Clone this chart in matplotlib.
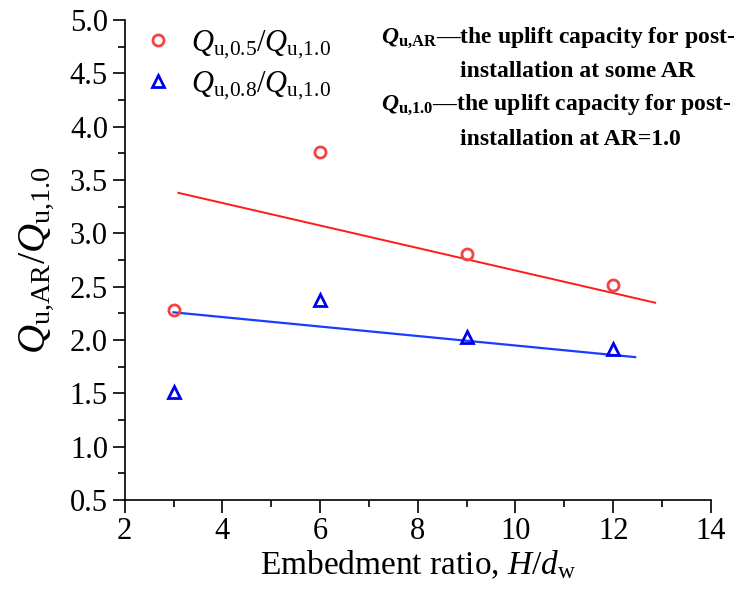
import matplotlib
matplotlib.use('Agg')
import matplotlib.pyplot as plt
from matplotlib.ticker import MultipleLocator, FormatStrFormatter

plt.rcParams['font.family'] = 'Liberation Serif'
plt.rcParams['mathtext.fontset'] = 'custom'
plt.rcParams['mathtext.rm'] = 'Liberation Serif'
plt.rcParams['mathtext.it'] = 'Liberation Serif:italic'
plt.rcParams['mathtext.bf'] = 'Liberation Serif:bold'
plt.rcParams['mathtext.bfit'] = 'Liberation Serif:bold:italic'

# embedment ratios and capacity ratios
ratio = [3, 6, 9, 12]
q05 = [2.28, 3.76, 2.81, 2.52]
q08 = [1.51, 2.38, 2.03, 1.92]

# trend lines (end points)
trend05_x = [3.1, 12.86]
trend05_y = [3.38, 2.35]
trend08_x = [3.0, 12.45]
trend08_y = [2.26, 1.84]

fig = plt.figure(figsize=(7.42, 5.89), dpi=100)
ax = fig.add_axes([0.168, 0.151, 0.790, 0.815])

ax.plot(trend05_x, trend05_y, color='#ff1a1a', lw=1.4)
ax.plot(trend08_x, trend08_y, color='#1a3cff', lw=1.6)
ax.plot(ratio, q05, ls='none', marker='o', ms=8, mfc='none', mec='#f04545', mew=2,
        label=r'$Q_{\mathrm{u{,}0.5}}/Q_{\mathrm{u{,}1.0}}$')
ax.plot(ratio, q08, ls='none', marker='^', ms=9, mfc='none', mec='#0000ee', mew=2,
        label=r'$Q_{\mathrm{u{,}0.8}}/Q_{\mathrm{u{,}1.0}}$')

ax.set_xlim(2, 14)
ax.set_ylim(0.5, 5.0)
ax.xaxis.set_major_locator(MultipleLocator(2))
ax.xaxis.set_minor_locator(MultipleLocator(1))
ax.yaxis.set_major_locator(MultipleLocator(0.5))
ax.yaxis.set_minor_locator(MultipleLocator(0.25))
ax.yaxis.set_major_formatter(FormatStrFormatter('%.1f'))
ax.tick_params(which='major', direction='out', length=9, width=1.2, labelsize=22, pad=3)
ax.tick_params(which='minor', direction='out', length=5, width=1.2)
ax.spines['top'].set_visible(False)
ax.spines['right'].set_visible(False)
for s in ('left', 'bottom'):
    ax.spines[s].set_linewidth(1.2)

ax.set_xlabel(r'Embedment ratio, $H/d_{\mathrm{w}}$', fontsize=24, labelpad=2)
ax.set_ylabel(r'$Q_{\mathrm{u{,}AR}}/Q_{\mathrm{u{,}1.0}}$', fontsize=29, labelpad=10)

ax.legend(loc='upper left', frameon=False, fontsize=22, handletextpad=0.5,
          handlelength=1.2, borderaxespad=0.0, labelspacing=0.3,
          bbox_to_anchor=(0.004, 1.008))

# notation notes
kw = dict(transform=ax.transAxes, fontsize=17, fontweight='bold', va='center')
ax.text(0.437, 0.963, r'$\mathbfit{Q}_{\mathbf{u{,}AR}}$—the uplift capacity for post-', **kw)
ax.text(0.572, 0.892, 'installation at some AR', **kw)
ax.text(0.437, 0.823, r'$\mathbfit{Q}_{\mathbf{u{,}1.0}}$—the uplift capacity for post-', **kw)
ax.text(0.572, 0.752, 'installation at AR=1.0', **kw)

fig.savefig('out.png', dpi=100)
